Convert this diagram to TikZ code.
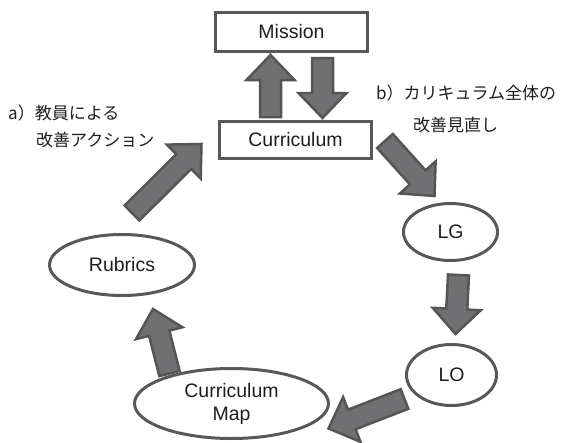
\documentclass[tikz,border=0pt]{standalone}
\usepackage{fontspec}
\setmainfont{Liberation Sans}
\newfontfamily\jpfont{Noto Sans CJK JP}
\usepackage{tikz}
\usetikzlibrary{calc,shapes.geometric}
\usepackage{color}

\definecolor{arrowfill}{HTML}{707072}
\definecolor{arrowline}{HTML}{555555}
\definecolor{boxline}{HTML}{585858}
\definecolor{textcol}{HTML}{1E1E1E}

\tikzset{
  box/.style={draw=boxline, line width=3pt, rectangle, inner sep=0pt},
  oval/.style={draw=boxline, line width=3pt, ellipse, inner sep=0pt, align=center},
  note/.style={anchor=west, inner sep=0pt, font=\jpfont\fontsize{17}{20}\selectfont},
  bigarrow/.style={draw=arrowline, fill=arrowfill, line width=2.5pt, line join=miter,
    to path={($(\tikztostart)!10.5pt!90:(\tikztotarget)$)
      -- ($(\tikztotarget)!25pt!(\tikztostart)!10.5pt!-90:(\tikztostart)$)
      -- ($(\tikztotarget)!25pt!(\tikztostart)!24pt!-90:(\tikztostart)$)
      -- (\tikztotarget)
      -- ($(\tikztotarget)!25pt!(\tikztostart)!24pt!90:(\tikztostart)$)
      -- ($(\tikztotarget)!25pt!(\tikztostart)!10.5pt!90:(\tikztostart)$)
      -- ($(\tikztostart)!10.5pt!-90:(\tikztotarget)$) -- cycle}}
}

\begin{document}
\begin{tikzpicture}[x=1pt, y=-1pt, text=textcol, font=\fontsize{19.5}{23}\selectfont]
\useasboundingbox (0,0) rectangle (580,442);

\node[box, minimum width=152pt, minimum height=39pt] (mission) at (291.5,32) {Mission};
\node[box, minimum width=152pt, minimum height=37pt] (curr) at (295.5,140) {Curriculum};
\node[oval, minimum width=94pt, minimum height=57pt] (lg) at (450.5,232) {LG};
\node[oval, minimum width=90pt, minimum height=61pt] (lo) at (451.5,375) {LO};
\node[oval, minimum width=194pt, minimum height=70pt] (cmap) at (231.5,403.5) {Curriculum\\Map};
\node[oval, minimum width=145pt, minimum height=61pt] (rubrics) at (122,265) {Rubrics};

\node[note] (noteA1) at (8,113) {a）教員による};
\node[note] (noteA2) at (36,140) {改善アクション};
\node[note] (noteB1) at (376,93) {b）カリキュラム全体の};
\node[note] (noteB2) at (413,125) {改善見直し};

% up and down between Mission and Curriculum
\draw[bigarrow] ($(curr.north)+(-25,-3)$) to ($(mission.south)+(-21,2)$);
\draw[bigarrow] ($(mission.south)+(31,5)$) to ($(curr.north)+(27,-2)$);

% the cycle
\draw[bigarrow] ($(curr.east)+(12,1)$) to ($(lg)+(-16,-36)$);
\draw[bigarrow] ($(lg.south)+(8,13)$) to ($(lo.north)+(4,-9)$);
\draw[bigarrow] ($(lo)+(-47,24)$) to ($(cmap)+(97,25)$);
\draw[bigarrow] ($(cmap)+(-62,-30)$) to ($(rubrics)+(31,44)$);
\draw[bigarrow] ($(rubrics)+(10,-52)$) to ($(curr)+(-94,4)$);

\end{tikzpicture}
\end{document}
